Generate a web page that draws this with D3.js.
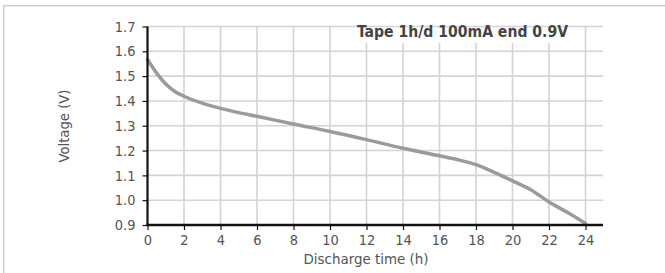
<!DOCTYPE html>
<html>
<head>
    <meta charset="utf-8">
    <title>Discharge curve</title>
    <script src="https://cdnjs.cloudflare.com/ajax/libs/d3/7.8.5/d3.min.js"></script>
    <style>
        body { margin: 0; background: #fff; }
        text { font-family: "DejaVu Sans Condensed", "Roboto", sans-serif; fill: #555; }
    </style>
</head>
<body>
<script>
    // data
    var hours = [0, 0.5, 1, 1.5, 2, 3, 4, 5, 6, 8, 10, 12, 14, 16, 17, 18, 19, 20, 21, 22, 23, 24];
    var volts = [1.567, 1.512, 1.468, 1.438, 1.419, 1.391, 1.37, 1.353, 1.338, 1.307, 1.277, 1.244, 1.209, 1.179, 1.163, 1.143, 1.112, 1.078, 1.042, 0.993, 0.951, 0.906];
    var xTicks = [0, 2, 4, 6, 8, 10, 12, 14, 16, 18, 20, 22, 24];
    var yTicks = [0.9, 1.0, 1.1, 1.2, 1.3, 1.4, 1.5, 1.6, 1.7];
    var title = "Tape 1h/d 100mA end 0.9V";

    var W = 665, H = 273;
    var svg = d3.select("body").append("svg").attr("width", W).attr("height", H);

    // outer frame, only left and top show
    svg.append("rect")
        .attr("x", 3.75).attr("y", 5.75)
        .attr("width", W + 10).attr("height", H + 10)
        .attr("fill", "none").attr("stroke", "#cfcfcf").attr("stroke-width", 1.5);

    var x = d3.scaleLinear().domain([0, 24]).range([147.5, 585.5]);
    var y = d3.scaleLinear().domain([0.9, 1.7]).range([225, 26.5]);
    var gridRight = 603;

    // grid
    svg.append("g").selectAll("line.h").data(yTicks.slice(1)).enter().append("line")
        .attr("x1", x(0)).attr("x2", gridRight)
        .attr("y1", function(d) { return y(d); })
        .attr("y2", function(d) { return y(d); })
        .attr("stroke", "#d4d4d4").attr("stroke-width", 1.6);
    svg.append("g").selectAll("line.v").data(xTicks.slice(1)).enter().append("line")
        .attr("x1", function(d) { return x(d); })
        .attr("x2", function(d) { return x(d); })
        .attr("y1", y(1.7)).attr("y2", y(0.9))
        .attr("stroke", "#d4d4d4").attr("stroke-width", 1.6);

    // curve
    var line = d3.line()
        .x(function(d, i) { return x(hours[i]); })
        .y(function(d) { return y(d); })
        .curve(d3.curveMonotoneX);
    svg.append("path").datum(volts)
        .attr("d", line)
        .attr("fill", "none").attr("stroke", "#9b9b9b").attr("stroke-width", 3.5)
        .attr("stroke-linecap", "round");

    // axes
    var yAxis = d3.axisLeft(y).tickValues(yTicks).tickFormat(d3.format(".1f")).tickSize(5).tickPadding(7);
    var gy = svg.append("g").attr("transform", "translate(" + x(0) + ",0)").call(yAxis);
    gy.select(".domain").remove();
    gy.append("line").attr("x1", 0).attr("x2", 0).attr("y1", y(1.7)).attr("y2", y(0.9) + 1)
        .attr("stroke", "#111").attr("stroke-width", 2.2);

    var xAxis = d3.axisBottom(x).tickValues(xTicks).tickSize(5).tickPadding(5);
    var gx = svg.append("g").attr("transform", "translate(0," + y(0.9) + ")").call(xAxis);
    gx.select(".domain").remove();
    gx.append("line").attr("x1", x(0) - 1).attr("x2", gridRight).attr("y1", 0).attr("y2", 0)
        .attr("stroke", "#111").attr("stroke-width", 2.6);

    svg.selectAll(".tick line").attr("stroke", "#111").attr("stroke-width", 1.2);
    svg.selectAll(".tick text").attr("font-size", 14.5).attr("fill", "#555")
        .attr("font-family", "'DejaVu Sans Condensed', Roboto, sans-serif");

    // axis titles
    svg.append("text").attr("x", 366).attr("y", 264)
        .attr("text-anchor", "middle").attr("font-size", 14)
        .attr("textLength", 125).attr("lengthAdjust", "spacingAndGlyphs")
        .text("Discharge time (h)");
    svg.append("text").attr("transform", "translate(69,126) rotate(-90)")
        .attr("text-anchor", "middle").attr("font-size", 14)
        .attr("textLength", 73).attr("lengthAdjust", "spacingAndGlyphs")
        .text("Voltage (V)");

    // title sits on a white box over the grid
    svg.append("rect").attr("x", 349).attr("y", 28).attr("width", 226).attr("height", 15).attr("fill", "#fff");
    svg.append("text").attr("x", 357).attr("y", 37)
        .attr("font-size", 16).attr("font-weight", "bold").style("fill", "#444")
        .attr("textLength", 211).attr("lengthAdjust", "spacingAndGlyphs")
        .text(title);
</script>
</body>
</html>
